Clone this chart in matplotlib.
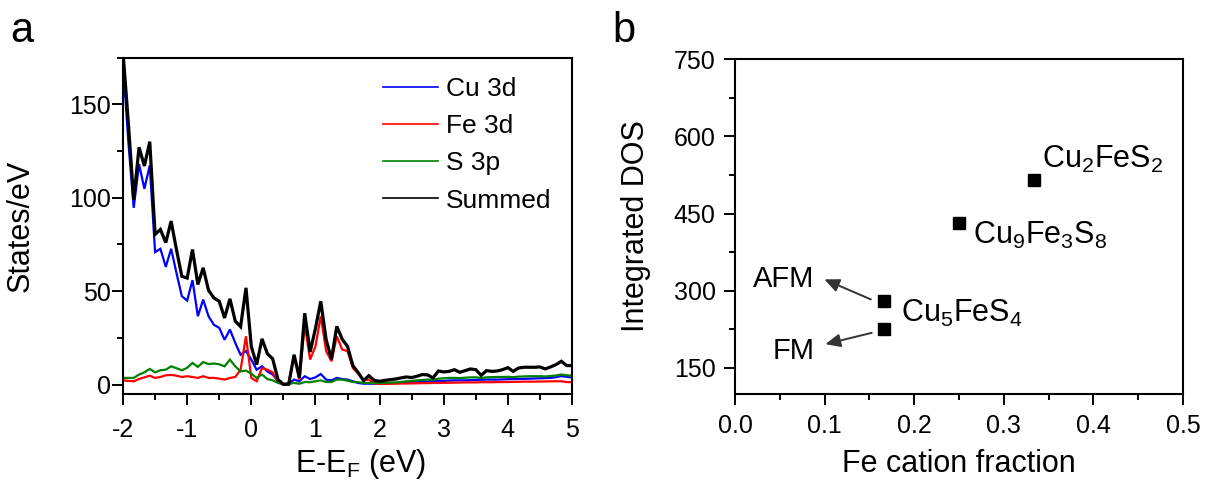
import matplotlib
matplotlib.use("Agg")
import matplotlib.pyplot as plt
import matplotlib.ticker as ticker
from matplotlib.lines import Line2D

plt.rcParams.update({
    "font.family": "Liberation Sans",
    "mathtext.fontset": "custom",
    "mathtext.rm": "Liberation Sans",
    "axes.unicode_minus": False,
})

# ── Panel a: projected DOS ───────────────────────────────────────────────
energy = [
    -2.000, -1.917, -1.833, -1.750, -1.667, -1.583, -1.500, -1.417, -1.333, -1.250,
    -1.167, -1.083, -1.000, -0.917, -0.833, -0.750, -0.667, -0.583, -0.500, -0.417,
    -0.333, -0.250, -0.167, -0.083, 0.000, 0.083, 0.167, 0.250, 0.333, 0.417,
    0.500, 0.583, 0.667, 0.750, 0.833, 0.917, 1.000, 1.083, 1.167, 1.250,
    1.333, 1.417, 1.500, 1.583, 1.667, 1.750, 1.833, 1.917, 2.000, 2.083,
    2.167, 2.250, 2.333, 2.417, 2.500, 2.583, 2.667, 2.750, 2.833, 2.917,
    3.000, 3.083, 3.167, 3.250, 3.333, 3.417, 3.500, 3.583, 3.667, 3.750,
    3.833, 3.917, 4.000, 4.083, 4.167, 4.250, 4.333, 4.417, 4.500, 4.583,
    4.667, 4.750, 4.833, 4.917, 5.000,
]

cu_3d = [
    172, 130, 94.6, 118, 104.8, 117.3, 70.9, 72.7, 63, 72.7, 59.8, 47.3, 45, 55.9,
    36.6, 45.5, 36.6, 32, 30.4, 24, 29.5, 22.3, 16, 18,
    13.4, 8, 9.8, 7.1, 5.4, 1.8, 0, 0.5, 2.7, 1.8, 4.5, 3, 3.9, 5.7, 2.7, 2.3, 3.6,
    3, 2.7, 1.8, 0.9, 0.5,
    0.5, 0.5, 0.5, 0.6, 0.8, 0.9, 1.0, 1.1, 1.2, 1.3, 1.4, 1.6, 1.8, 1.9, 2.0, 2.2,
    2.3, 2.3, 2.3, 2.4, 2.5, 2.6, 2.7, 2.7, 2.7, 2.8, 2.9, 3.0, 3.0, 3.1, 3.2, 3.3,
    3.4, 3.5, 3.6, 4.0, 4.6, 4.2, 3.8,
]

fe_3d = [
    2.3, 2.0, 1.8, 3.0, 3.9, 4.8, 3.6, 4.1, 5.0, 5.2, 4.8, 4.1, 4.5, 4.1, 3.6, 4.5,
    3.6, 3.6, 3.2, 2.7, 3.6, 4.1, 8.0, 25.9,
    3.6, 1.8, 8.9, 8.0, 6.6, 1.2, 0, 0.9, 15.2, 2.7, 32, 13.4, 20.5, 36.6, 17.9,
    12.5, 25.9, 18.8, 17.9, 8.9, 5.9, 2.3,
    2.7, 0.6, 0.4, 0.4, 0.5, 0.5, 0.6, 0.6, 0.7, 0.7, 0.8, 0.8, 0.9, 0.9, 1.0, 1.0,
    1.1, 1.1, 1.2, 1.2, 1.2, 1.3, 1.3, 1.3, 1.4, 1.4, 1.4, 1.5, 1.5, 1.6, 1.6, 1.6,
    1.7, 1.7, 1.8, 1.8, 1.8, 1.4, 1.3,
]

s_3p = [
    3.6, 3.6, 3.6, 5.4, 6.6, 8.4, 6.6, 7.7, 8.0, 9.8, 8.8, 7.7, 9.0, 11.6, 9.5, 12.1,
    11.0, 11.3, 10.9, 9.8, 13.4, 9.8, 7.1, 7.5,
    5.9, 3.6, 5.4, 3.0, 2.3, 0.9, 0.4, 0.4, 0.9, 0.5, 1.4, 1.3, 1.8, 2.3, 1.4, 1.4,
    2.7, 2.7, 2.1, 1.4, 1.3, 0.9,
    0.9, 0.9, 0.9, 1.0, 1.1, 1.2, 1.4, 1.8, 2.0, 2.3, 2.5, 2.7, 2.6, 3.2, 3.4, 3.6,
    3.6, 3.5, 3.7, 3.9, 3.9, 3.6, 3.9, 4.0, 4.1, 4.1, 4.2, 4.0, 4.3, 4.4, 4.5, 4.5,
    4.5, 4.4, 4.6, 4.9, 5.4, 5.0, 4.8,
]

summed = [
    178, 140, 99, 127, 117, 130, 80.4, 83, 76, 87.5, 72.3, 58, 57, 72.3, 53.6, 62.5,
    50.5, 46.4, 44.6, 35.7, 45.9, 34, 31, 51.8,
    20.5, 10.7, 24.5, 16.6, 13.8, 2.7, 0.2, 0.2, 16, 3.6, 38.2, 17.5, 30, 44.6, 24,
    13.6, 31.2, 24.3, 20.5, 10.2, 6.4, 2.2,
    4.8, 2.3, 1.8, 2.3, 2.7, 3.0, 3.6, 4.1, 3.8, 4.5, 5.4, 5.2, 3.6, 7.3, 6.8, 7.1,
    8.0, 6.6, 7.5, 8.4, 8.0, 5.0, 7.5, 7.1, 7.3, 8.0, 9.1, 7.1, 8.9, 9.3, 9.3, 9.3,
    9.5, 8.4, 9.5, 10.7, 12.5, 10.2, 10.2,
]

series = [("Cu 3d", cu_3d, "#0000FF"), ("Fe 3d", fe_3d, "#FF0000"),
          ("S 3p", s_3p, "#008000"), ("Summed", summed, "#000000")]

# ── Panel b: integrated DOS ──────────────────────────────────────────────
fe_fraction = [1/3, 1/4, 1/6, 1/6]
int_dos = [516, 432, 280, 226]


def style_axes(ax, xpad, ypad):
    for s in ax.spines.values():
        s.set_linewidth(1.5)
    ax.tick_params(which="both", direction="out", top=False, right=False, width=1.4)
    ax.tick_params(which="major", length=8, labelsize=18)
    ax.tick_params(which="minor", length=4.5)
    ax.tick_params(axis="x", which="major", pad=xpad)
    ax.tick_params(axis="y", which="major", pad=ypad)


fig = plt.figure(figsize=(12.06, 4.82), dpi=100)

# panel a
ax1 = fig.add_axes([0.1020, 0.1826, 0.3723, 0.6980])
for name, vals, col in series:
    lw = 2.3 if name == "Summed" else 1.6
    ax1.plot(energy, vals, color=col, lw=lw, solid_joinstyle="miter")
ax1.set_xlim(-2, 5)
ax1.set_ylim(-5, 175)
ax1.xaxis.set_major_locator(ticker.MultipleLocator(1))
ax1.xaxis.set_minor_locator(ticker.MultipleLocator(0.5))
ax1.yaxis.set_major_locator(ticker.MultipleLocator(50))
ax1.yaxis.set_minor_locator(ticker.MultipleLocator(25))
style_axes(ax1, xpad=9, ypad=1)
ax1.set_xlabel(r"E-E$_\mathregular{F}$ (eV)", fontsize=22, labelpad=4)
ax1.xaxis.label.set_x(0.53)
ax1.set_ylabel("States/eV", fontsize=22, labelpad=24)

handles = [Line2D([], [], color=col, lw=1.2) for _, _, col in series]
ax1.legend(handles, [n for n, _, _ in series], loc="upper left",
           bbox_to_anchor=(383/1206, 1 - 77/482), bbox_transform=fig.transFigure,
           frameon=False, fontsize=19, handlelength=2.1, handletextpad=0.3,
           labelspacing=0.5, borderpad=0, borderaxespad=0)

# panel b
ax2 = fig.add_axes([0.6095, 0.1836, 0.3715, 0.6934])
ax2.plot(fe_fraction, int_dos, ls="none", marker="s", ms=8.5, color="black")
ax2.set_xlim(0, 0.5)
ax2.set_ylim(100, 750)
ax2.xaxis.set_major_locator(ticker.MultipleLocator(0.1))
ax2.xaxis.set_minor_locator(ticker.MultipleLocator(0.05))
ax2.xaxis.set_major_formatter(ticker.FormatStrFormatter("%.1f"))
ax2.yaxis.set_major_locator(ticker.FixedLocator([150, 300, 450, 600, 750]))
ax2.yaxis.set_minor_locator(ticker.FixedLocator([225, 375, 525, 675]))
style_axes(ax2, xpad=7, ypad=6)
ax2.set_xlabel("Fe cation fraction", fontsize=22, labelpad=8)
ax2.set_ylabel("Integrated DOS", fontsize=22, labelpad=16)

lab = dict(fontsize=22, va="baseline")
ax2.text(0.342, 539, r"Cu$_\mathregular{2}$FeS$_\mathregular{2}$", **lab)
ax2.text(0.266, 390, r"Cu$_\mathregular{9}$Fe$_\mathregular{3}$S$_\mathregular{8}$", **lab)
ax2.text(0.1855, 239, r"Cu$_\mathregular{5}$FeS$_\mathregular{4}$", **lab)

arrow = dict(arrowstyle="-|>,head_length=0.9,head_width=0.4", color="#333333", lw=1.4,
             shrinkA=0, shrinkB=0)
ax2.annotate("", xy=(0.0996, 322), xytext=(0.1516, 283), arrowprops=arrow)
ax2.annotate("", xy=(0.1008, 196), xytext=(0.1525, 218), arrowprops=arrow)
ax2.text(0.0884, 307, "AFM", fontsize=21, ha="right", va="baseline")
ax2.text(0.0884, 168, "FM", fontsize=21, ha="right", va="baseline")

fig.text(10/1206, 1 - 42/482, "a", fontsize=30, va="baseline")
fig.text(612/1206, 1 - 42/482, "b", fontsize=30, va="baseline")

fig.savefig("out.png", dpi=100, facecolor="white")
